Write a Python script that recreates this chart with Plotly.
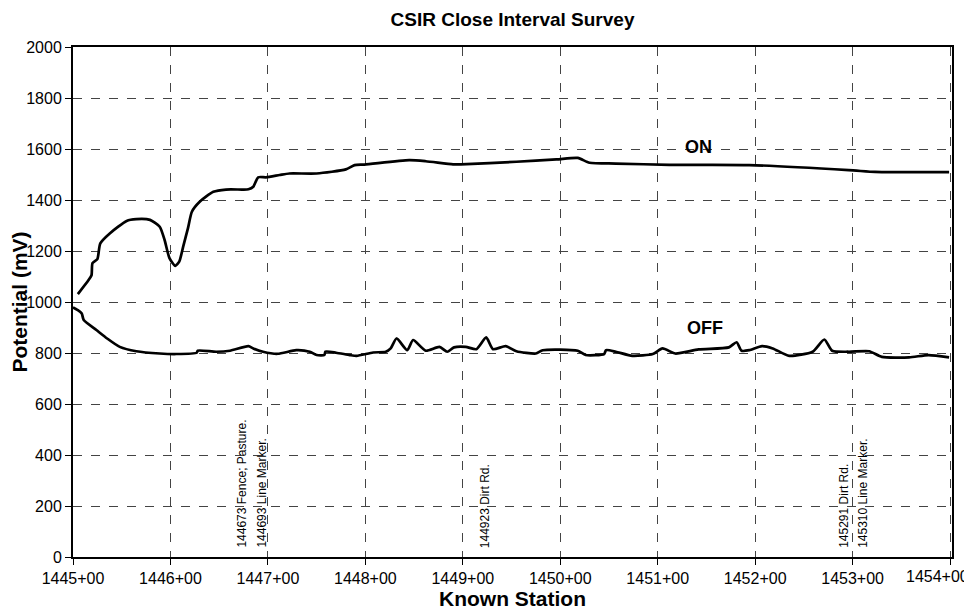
import plotly.graph_objects as go

# ON potential readings (station in ft, potential in mV)
on_station = [144505, 144516, 144519, 144520, 144525, 144528, 144538, 144555, 144565, 144579,
              144589, 144594, 144599, 144605, 144609, 144613, 144618, 144622, 144630, 144644,
              144657, 144674, 144680, 144685, 144690, 144698, 144712, 144722, 144750, 144780,
              144789, 144799, 144845, 144862, 144890, 144898, 144955, 144996, 145018, 145030,
              145057, 145112, 145194, 145296, 145323, 145344, 145399]
on_mv = [1031, 1086, 1105, 1152, 1168, 1230, 1270, 1318, 1325, 1322,
         1295, 1243, 1172, 1142, 1158, 1216, 1290, 1354, 1393, 1432,
         1441, 1441, 1442, 1452, 1489, 1489, 1498, 1504, 1504, 1520,
         1537, 1539, 1556, 1552, 1540, 1540, 1550, 1559, 1565, 1546,
         1543, 1538, 1537, 1517, 1510, 1509, 1509]

# OFF potential readings
off_station = [144500, 144505, 144509, 144511, 144524, 144535, 144548, 144565, 144589, 144606,
               144627, 144628, 144647, 144661, 144680, 144685, 144695, 144710, 144729, 144743,
               144750, 144758, 144759, 144770, 144784, 144791, 144808, 144821, 144826, 144832,
               144843, 144849, 144862, 144876, 144884, 144891, 144903, 144914, 144924, 144931,
               144944, 144955, 144975, 144982, 145018, 145026, 145045, 145047, 145057, 145074,
               145095, 145105, 145118, 145142, 145173, 145181, 145186, 145194, 145207, 145218,
               145235, 145259, 145271, 145279, 145296, 145317, 145330, 145358, 145378, 145399]
off_mv = [979, 968, 955, 929, 890, 857, 824, 807, 798, 796,
          801, 809, 805, 809, 827, 818, 805, 797, 811, 805,
          792, 792, 805, 801, 792, 789, 802, 805, 818, 857,
          811, 851, 809, 824, 805, 822, 824, 815, 861, 815,
          827, 807, 798, 811, 809, 792, 796, 811, 805, 789,
          796, 818, 798, 814, 822, 842, 809, 811, 827, 818,
          789, 805, 853, 809, 805, 807, 785, 783, 792, 783]

# Feature comments along the survey
comment_station = [144673, 144693, 144923, 145291, 145310]
comment_text = ["144673 Fence; Pasture.", "144693 Line Marker.", "144923 Dirt Rd.",
                "145291 Dirt Rd.", "145310 Line Marker."]

# Axis ticks
x_tickvals = [144500, 144600, 144700, 144800, 144900, 145000, 145100, 145200, 145300, 145400]
x_ticktext = ["1445+00", "1446+00", "1447+00", "1448+00", "1449+00",
              "1450+00", "1451+00", "1452+00", "1453+00", "1454+00"]
y_tickvals = [0, 200, 400, 600, 800, 1000, 1200, 1400, 1600, 1800, 2000]

# Series labels
series_names = ["ON", "OFF"]
label_station = [145142, 145149]
label_mv = [1607, 898]

FONT = "Arial, Liberation Sans, sans-serif"
axis_font = dict(family=FONT, size=16, color="black")

# the last tick label is drawn right-aligned so it stays inside the page
display_ticktext = list(x_ticktext[:-1]) + [""]

fig = go.Figure()
fig.add_trace(go.Scatter(x=on_station, y=on_mv, mode="lines", name="ON",
                         line=dict(color="black", width=2.7, shape="spline", smoothing=0.6)))
fig.add_trace(go.Scatter(x=off_station, y=off_mv, mode="lines", name="OFF",
                         line=dict(color="black", width=2.7, shape="spline", smoothing=0.6)))

for s, t in zip(comment_station, comment_text):
    fig.add_annotation(x=s, y=0, text=t, textangle=-90, showarrow=False,
                       xanchor="center", yanchor="bottom", yshift=7,
                       font=dict(family=FONT, size=12, color="black"))

for n, s, v in zip(series_names, label_station, label_mv):
    fig.add_annotation(x=s, y=v, text="<b>%s</b>" % n, showarrow=False,
                       font=dict(family=FONT, size=18, color="black"))

fig.add_annotation(x=x_tickvals[-1], y=0, text=x_ticktext[-1], showarrow=False,
                   xanchor="right", xshift=21, yanchor="top", yshift=-9,
                   font=axis_font)

fig.update_layout(
    width=964, height=606,
    margin=dict(l=65, r=20, t=39, b=57),
    paper_bgcolor="white", plot_bgcolor="white",
    showlegend=False,
    title=dict(text="<b>CSIR Close Interval Survey</b>", x=0.5, xanchor="center",
               xref="paper", yref="container", y=1 - 11 / 606, yanchor="middle",
               font=dict(family=FONT, size=19, color="black")),
    xaxis=dict(range=[144500, 145402], tickvals=x_tickvals, ticktext=display_ticktext,
               showline=True, linecolor="black", linewidth=2, mirror=True,
               ticks="outside", ticklen=6, tickcolor="black", tickfont=axis_font,
               showgrid=True, gridcolor="#444", gridwidth=1, griddash="dash",
               zeroline=False, automargin=False,
               title=dict(text="<b>Known Station</b>", standoff=5,
                          font=dict(family=FONT, size=21, color="black"))),
    yaxis=dict(range=[0, 2000], tickvals=y_tickvals,
               showline=True, linecolor="black", linewidth=2, mirror=True,
               ticks="outside", ticklen=6, tickcolor="black", tickfont=axis_font,
               showgrid=True, gridcolor="#444", gridwidth=1, griddash="dash",
               zeroline=False, automargin=False,
               title=dict(text="<b>Potential (mV)</b>", standoff=6,
                          font=dict(family=FONT, size=21, color="black"))),
)

fig.write_html("out.html")
